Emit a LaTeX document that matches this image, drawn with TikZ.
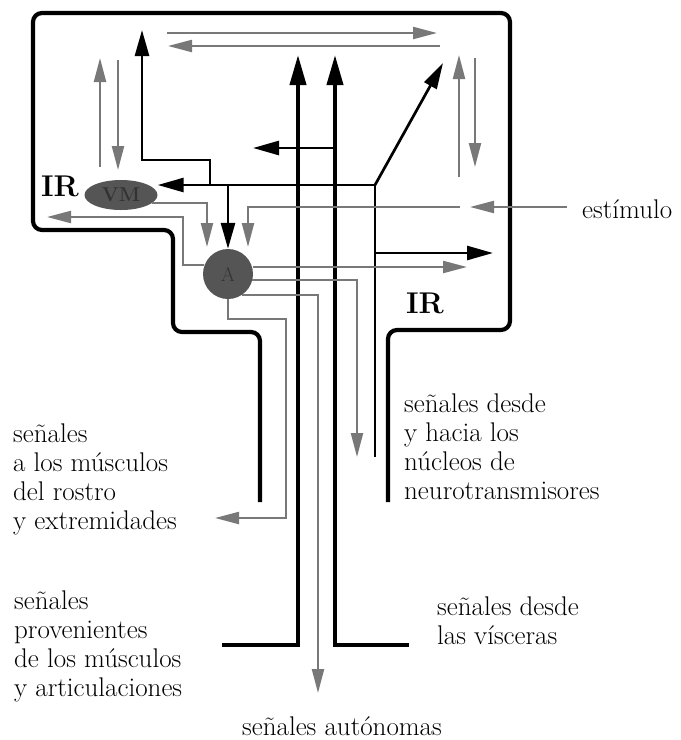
\documentclass[tikz,border=0pt]{standalone}
\usetikzlibrary{arrows.meta,shapes.geometric}
\definecolor{siggray}{RGB}{120,120,120}
\definecolor{cellgray}{RGB}{85,85,85}

\begin{document}
\begin{tikzpicture}[x=1pt,y=-1pt,
    wall/.style={line width=4.2pt,rounded corners=9pt},
    tract/.style={line width=4pt,-{Triangle[length=30pt,width=16pt]}},
    blk/.style={line width=2.7pt,-{Triangle[length=26pt,width=14pt]}},
    blkline/.style={line width=2.7pt},
    sig/.style={siggray,line width=2.2pt,-{Triangle[length=24pt,width=12pt]}},
    lbl/.style={font=\fontsize{27}{29}\selectfont,align=left,inner sep=0pt,text=black},
    ir/.style={font=\fontsize{30}{30}\selectfont\bfseries,inner sep=0pt,text=black}]
		\useasboundingbox (0,0) rectangle (681,740);

		% outline of the brain stem
		\draw[wall] (260,502)--(260,332)--(173,332)--(173,230)--(33,230)--(33,13)--(510,13)--(510,330)--(388,330)--(388,502);

		\node[ellipse,fill=cellgray,minimum width=73pt,minimum height=30pt,inner sep=0pt] (vm) at (121,195) {\fontsize{20}{20}\selectfont\bfseries\color{black!80}VM};
		\node[circle,fill=cellgray,minimum size=50pt,inner sep=0pt] (a) at (228,274) {\fontsize{20}{20}\selectfont\color{black!80}A};
		\node[ir,anchor=base] (irL) at (60,196) {IR};
		\node[ir,anchor=base] (irR) at (425,313) {IR};

		% end points
		\coordinate (baseL) at (222,645);
		\coordinate (baseR) at (409,645);
		\coordinate (topL) at (298,55);
		\coordinate (topR) at (335,55);
		\coordinate (j) at (375,185);
		\coordinate (jdown) at (375,457);
		\coordinate (diag) at (443,63);
		\coordinate (outB) at (493,253);
		\coordinate (outG) at (467,267);
		\coordinate (nucl) at (357,457);
		\coordinate (auto) at (318,693);
		\coordinate (face) at (215,518);
		\coordinate (left) at (47,217);
		\coordinate (stimR) at (567,207);
		\coordinate (stimL) at (470,207);

		% thick ascending tracts
		\draw[tract] (baseL) -| (topL);
		\draw[tract] (baseR) -| (topR);
		\draw[blk] (topR |- 0,148) -- (253,148);

		% black branches
		\draw[blk] (j) -- (vm.east |- j);
		\draw[blk] (j) -- (diag);
		\draw[blkline] (j) -- (jdown);
		\draw[blk] (jdown |- outB) -- (outB);
		\draw[blk] (210,185) |- (142,160) -- (142,30);
		\draw[blk] (228,185) -- (a.north);

		% gray signals
		\draw[sig] (100,167) -- (100,58);
		\draw[sig] (118,60) -- (118,170);
		\draw[sig] (167,33) -- (437,33);
		\draw[sig] (440,46) -- (168,46);
		\draw[sig] (459,177) -- (459,55);
		\draw[sig] (475,58) -- (475,167);
		\draw[sig] (152,203) -| (207,247);
		\draw[sig] (a.160) -| (183,217) -- (left);
		\draw[sig] (stimR) -- (stimL);
		\draw[sig] (460,207) -| (248,247);
		\draw[sig] (a.east |- outG) -- (outG);
		\draw[sig] (a.-14) -| (nucl);
		\draw[sig] (a.-57) -| (auto);
		\draw[sig] (a.south) |- (286,319) |- (face);

		% labels
		\node[lbl,anchor=north west] (musc) at (13,424) {señales\\a los músculos\\del rostro\\y extremidades};
		\node[lbl,anchor=north west] (neuro) at (404,394) {señales desde\\y hacia los\\núcleos de\\neurotransmisores};
		\node[lbl,anchor=north west] (artic) at (14,591) {señales\\provenientes\\de los músculos\\y articulaciones};
		\node[lbl,anchor=north west] (visc) at (437,597) {señales desde\\las vísceras};
		\node[lbl,anchor=base] (auton) at (342,735) {señales autónomas};
		\node[lbl,anchor=base west] (stim) at (582,218) {estímulo};
	\end{tikzpicture}
\end{document}
